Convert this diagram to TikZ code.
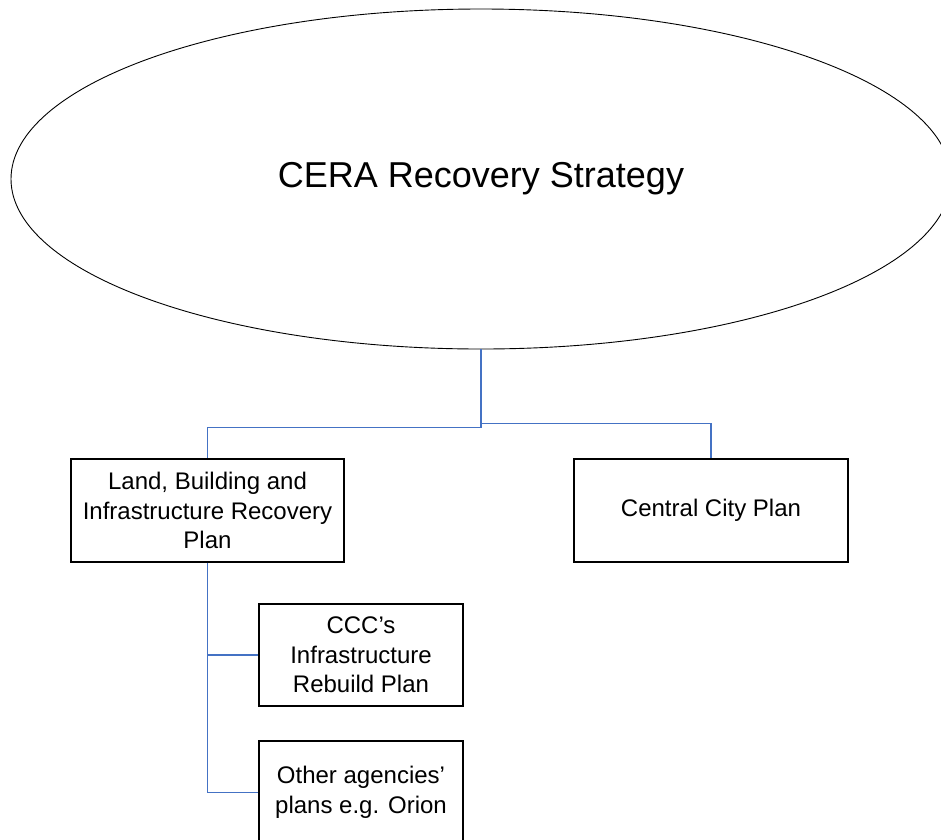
\documentclass[tikz,border=0pt]{standalone}
\usepackage{fontspec}
\setmainfont{Liberation Sans}
\usetikzlibrary{positioning}
\usetikzlibrary{shapes.misc,shapes}
\definecolor{linkblue}{RGB}{68,114,196}

\begin{document}
\begin{tikzpicture}[x=1pt,y=-1pt,
	plan/.style={draw,line width=1.6pt,rectangle,inner sep=0pt,align=center,font=\fontsize{24}{29.5}\selectfont},
	link/.style={draw=linkblue,line width=1.1pt}]
	\useasboundingbox (0,0) rectangle (941,839);

    % strategy
	\node[draw,ellipse,line width=0.9pt,inner sep=0pt,minimum width=940pt,minimum height=340pt,font=\fontsize{36}{40}\selectfont] (cera) at (481,179) {CERA Recovery Strategy};

    % plans
	\node[plan,minimum width=273pt,minimum height=103pt] (lbirp) at (207.5,510.5) {Land, Building and\\Infrastructure Recovery\\Plan};
	\node[plan,minimum width=274pt,minimum height=103pt] (ccp) at (711,510.5) {Central City Plan};
	\node[plan,minimum width=204pt,minimum height=102pt] (ccc) at (361,655) {CCC’s\\Infrastructure\\Rebuild Plan};
	\node[plan,minimum width=204pt,minimum height=103pt] (other) at (361,792.5) {Other agencies’\\plans e.g. Orion};

    % connectors strategy -> plans
	\draw[link] (cera.south) |- ([yshift=31pt]lbirp.north) -- (lbirp.north);
	\draw[link] (cera.south) |- ([yshift=35pt]ccp.north) -- (ccp.north);

    % connectors recovery plan -> sub plans
	\foreach \n in {ccc,other} \draw[link] (lbirp.south) |- (\n.west);
\end{tikzpicture}
\end{document}
